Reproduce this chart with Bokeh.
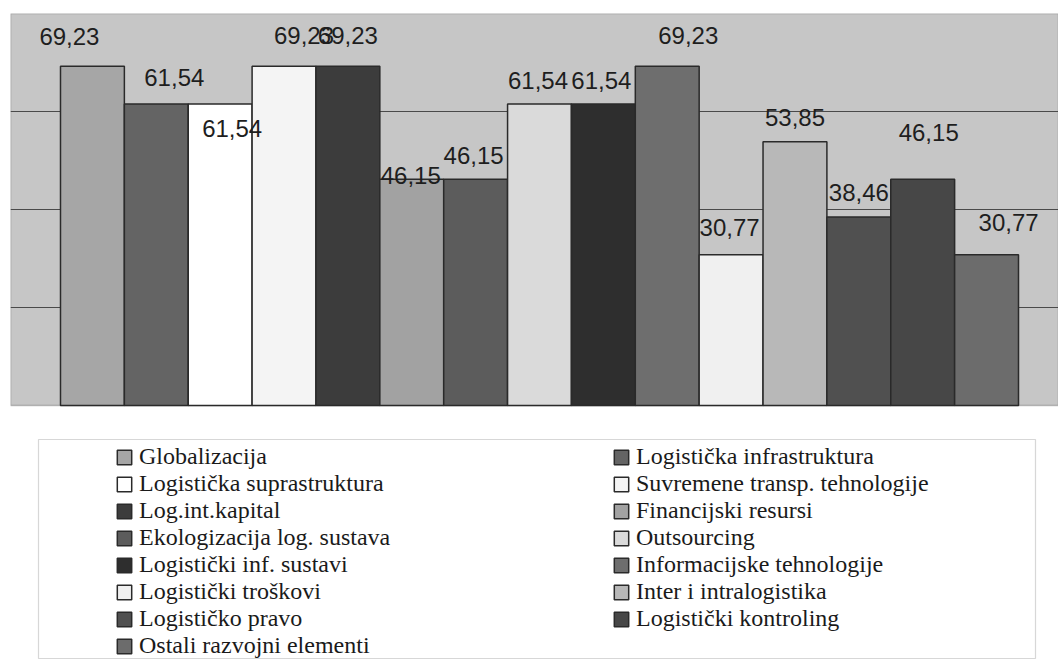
from bokeh.plotting import figure
from bokeh.models import (ColumnDataSource, Legend, LegendItem, Range1d, Grid,
                          FixedTicker, BoxAnnotation)
from bokeh.embed import file_html
from bokeh.resources import INLINE
from bokeh.core.properties import value

# ---- data ----
categories = [
    "Globalizacija", "Logistička infrastruktura", "Logistička suprastruktura",
    "Suvremene transp. tehnologije", "Log.int.kapital", "Financijski resursi",
    "Ekologizacija log. sustava", "Outsourcing", "Logistički inf. sustavi",
    "Informacijske tehnologije", "Logistički troškovi", "Inter i intralogistika",
    "Logističko pravo", "Logistički kontroling", "Ostali razvojni elementi",
]
values = [69.23, 61.54, 61.54, 69.23, 69.23, 46.15, 46.15, 61.54, 61.54,
          69.23, 30.77, 53.85, 38.46, 46.15, 30.77]
colors = ["#a6a6a6", "#646464", "#ffffff", "#f4f4f4", "#3c3c3c", "#a2a2a2",
          "#5c5c5c", "#dadada", "#2e2e2e", "#6e6e6e", "#f0f0f0", "#b8b8b8",
          "#505050", "#474747", "#6c6c6c"]
y_ticks = [20, 40, 60]
y_max = 80

# label placement offsets (screen px, relative to bar top centre)
label_dx = [-23, 18, 12, 20, 0, -1, -2, -1.5, -2, 21, -1.5, 0, 0, 6, 22]
label_dy = [-30, -26, 25, -31, -31, -4, -24, -23.5, -23.5, -31, -27, -24, -24.5, -47, -32]

labels = [f"{v:.2f}".replace(".", ",") for v in values]
src = ColumnDataSource(dict(x=list(range(len(values))), top=values, color=colors,
                            label=labels, dx=label_dx, dy=label_dy))

# ---- layout constants (px) ----
W, H = 1058, 660
FL, FT = 10, 13           # frame left / top
BASE = 405                # pixel row of the value axis zero (bottom of plot area)
FB = H - 1                # frame bottom
BAR_W = 958 / 15.0
x0 = -0.5 - 50 / BAR_W
x1 = x0 + (W - FL) / BAR_W
ppu = (BASE - FT) / y_max
y0 = -(FB - BASE) / ppu

p = figure(width=W, height=H, x_range=Range1d(x0, x1), y_range=Range1d(y0, y_max),
           x_axis_type=None, y_axis_type=None, toolbar_location=None,
           output_backend="svg", min_border_left=FL, min_border_right=0,
           min_border_top=FT, min_border_bottom=H - FB,
           background_fill_color="white", border_fill_color="white",
           outline_line_color=None)

# plot area (grey wall with dark frame)
p.add_layout(BoxAnnotation(left=x0, right=x1, bottom=0, top=y_max,
                           fill_color="#c6c6c6", fill_alpha=1,
                           line_color="#3a3a3a", line_width=1.5, level="image"))
p.add_layout(Grid(dimension=1, ticker=FixedTicker(ticks=y_ticks),
                  grid_line_color="#4a4a4a", grid_line_width=1))
bars = p.vbar(x="x", top="top", bottom=0, width=1.0, source=src, fill_color="color",
              line_color="#2a2a2a", line_width=1.5)
p.text(x="x", y="top", text="label", x_offset="dx", y_offset="dy", source=src,
       text_font=value("Liberation Sans"), text_font_size="24px",
       text_align="center", text_baseline="middle", text_color="#1e1e1e")

# ---- legend box ----
p.add_layout(BoxAnnotation(left=38, right=1035, top=439, bottom=FB - 1,
                           left_units="canvas", right_units="canvas",
                           top_units="canvas", bottom_units="canvas",
                           fill_alpha=0, line_color="#7a7a7a", line_width=1.2,
                           level="overlay"))

ROW = 27
TOP = 443
common = dict(orientation="vertical", padding=0, margin=0, spacing=0,
              border_line_color=None, background_fill_alpha=0,
              glyph_width=18, glyph_height=18, label_standoff=6, label_height=ROW,
              label_text_font="Liberation Serif", label_text_font_size="24px",
              label_text_line_height=0.95, label_text_color="#1a1a1a")
col1 = list(range(0, 15, 2))
col2 = list(range(1, 15, 2))
leg1 = Legend(items=[LegendItem(label=categories[i], renderers=[bars], index=i) for i in col1],
              location=(115 - FL, FB - TOP - ROW * len(col1)), **common)
leg2 = Legend(items=[LegendItem(label=categories[i], renderers=[bars], index=i) for i in col2],
              location=(612 - FL, FB - TOP - ROW * len(col2)), **common)
p.add_layout(leg1)
p.add_layout(leg2)

open("out.html", "w").write(file_html(p, INLINE))
